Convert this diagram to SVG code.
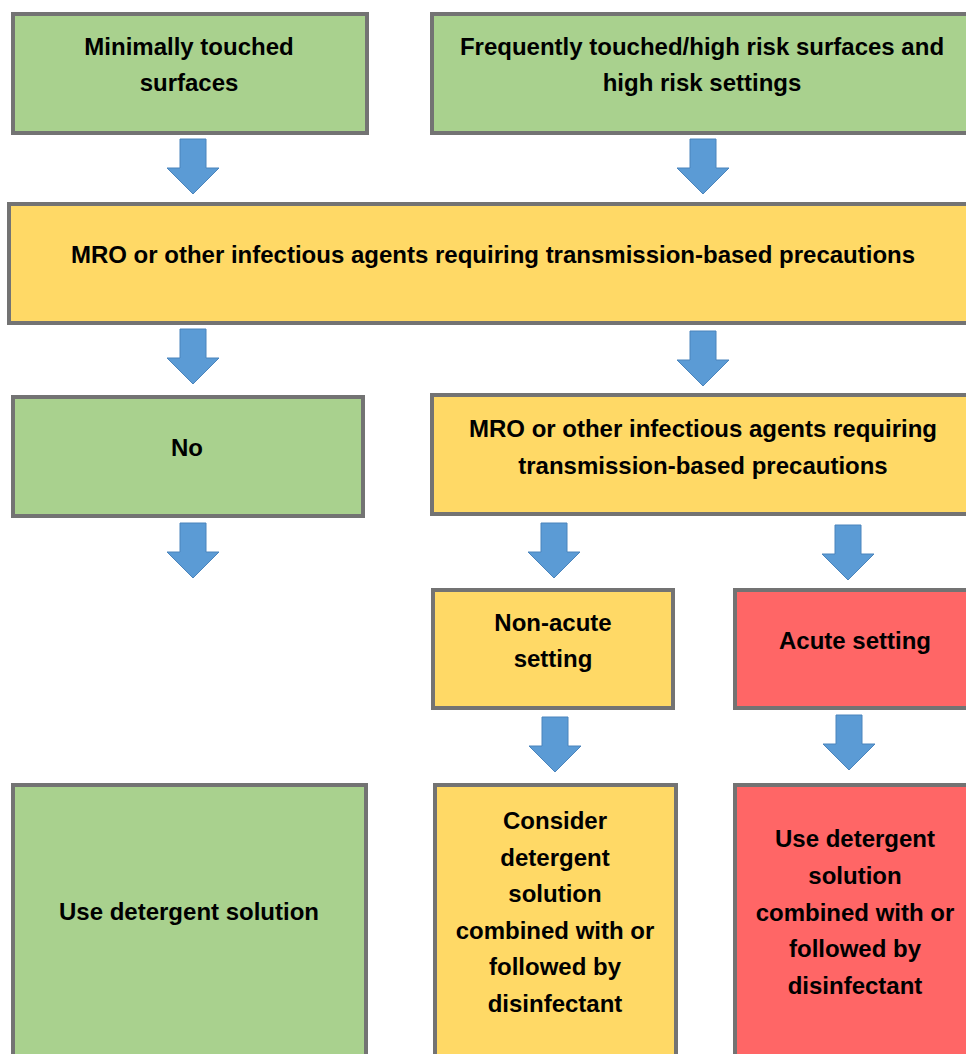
<svg xmlns="http://www.w3.org/2000/svg" width="966" height="1054" viewBox="0 0 966 1054">
<defs>
<style>
.box{stroke:#737373;stroke-width:4}
.g{fill:#A9D18E}
.y{fill:#FFD966}
.r{fill:#FF6666}
.arr{fill:#5B9BD5;stroke:#4A84BC;stroke-width:1}
text{font-family:"Liberation Sans",Arial,sans-serif;font-weight:bold;font-size:24px;fill:#000;text-anchor:middle}
</style>
<path id="ar" d="M-13,0 H13 V29 H26 L0,55 L-26,29 H-13 Z"/>
</defs>
<g id="connectors">
<use href="#ar" class="arr" x="193" y="139"/>
<use href="#ar" class="arr" x="703" y="139"/>
<use href="#ar" class="arr" x="193" y="329"/>
<use href="#ar" class="arr" x="703" y="331"/>
<use href="#ar" class="arr" x="193" y="523"/>
<use href="#ar" class="arr" x="554" y="523"/>
<use href="#ar" class="arr" x="848" y="525"/>
<use href="#ar" class="arr" x="555" y="717"/>
<use href="#ar" class="arr" x="849" y="715"/>
</g>
<g id="n1"><rect class="box g" x="13" y="14" width="354" height="119"/>
<text x="189" y="55">Minimally touched</text><text x="189" y="91">surfaces</text></g>
<g id="n2"><rect class="box g" x="432" y="14" width="545" height="119"/>
<text x="702" y="55">Frequently touched/high risk surfaces and</text><text x="702" y="91">high risk settings</text></g>
<g id="n3"><rect class="box y" x="9" y="204" width="970" height="119"/>
<text x="493" y="263">MRO or other infectious agents requiring transmission-based precautions</text></g>
<g id="n4"><rect class="box g" x="13" y="397" width="350" height="119"/>
<text x="187" y="456">No</text></g>
<g id="n5"><rect class="box y" x="432" y="395" width="545" height="119"/>
<text x="703" y="437">MRO or other infectious agents requiring</text><text x="703" y="474">transmission-based precautions</text></g>
<g id="n6"><rect class="box y" x="433" y="590" width="240" height="118"/>
<text x="553" y="631">Non-acute</text><text x="553" y="667">setting</text></g>
<g id="n7"><rect class="box r" x="735" y="590" width="242" height="118"/>
<text x="855" y="649">Acute setting</text></g>
<g id="n8"><rect class="box g" x="13" y="785" width="353" height="280"/>
<text x="189" y="920">Use detergent solution</text></g>
<g id="n9"><rect class="box y" x="435" y="785" width="241" height="280"/>
<text x="555" y="829">Consider</text><text x="555" y="866">detergent</text><text x="555" y="902">solution</text><text x="555" y="939">combined with or</text><text x="555" y="975">followed by</text><text x="555" y="1012">disinfectant</text></g>
<g id="n10"><rect class="box r" x="735" y="785" width="244" height="280"/>
<text x="855" y="847">Use detergent</text><text x="855" y="884">solution</text><text x="855" y="921">combined with or</text><text x="855" y="957">followed by</text><text x="855" y="994">disinfectant</text></g>
</svg>
